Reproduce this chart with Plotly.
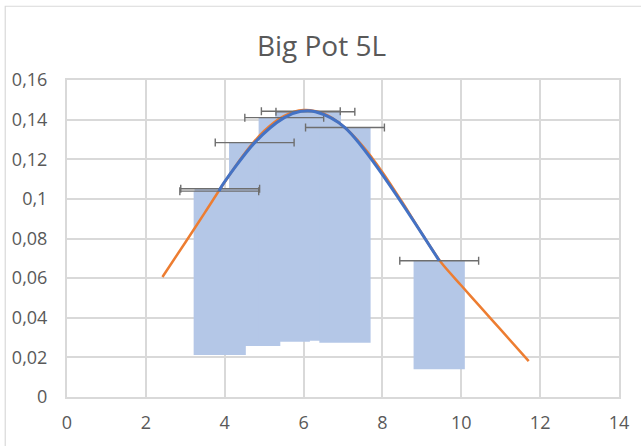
import plotly.graph_objects as go

# Measured points: plant size (x) vs. frequency (top of column), with column floor
size_x = [3.862, 3.885, 4.76, 5.51, 5.93, 6.30, 7.05, 9.44]
freq_top = [0.1039, 0.1051, 0.1284, 0.1410, 0.1442, 0.1440, 0.1360, 0.0688]
freq_base = [0.0212, 0.0212, 0.0257, 0.0279, 0.0284, 0.0288, 0.0274, 0.0140]
size_err = [1.0, 1.0, 1.0, 1.0, 1.0, 1.0, 1.0, 1.0]

# Fitted distribution curve
fit_x = [2.42, 3.0, 3.5, 4.0, 4.5, 5.0, 5.5, 6.0, 6.5, 7.0, 7.5, 8.0, 8.5,
         9.0, 9.5, 10.0, 10.5, 11.0, 11.71]
fit_y = [0.0606, 0.0780, 0.0932, 0.1085, 0.1228, 0.1343, 0.1418, 0.1448,
         0.1431, 0.1368, 0.1267, 0.1135, 0.0984, 0.0825, 0.0676, 0.0563,
         0.0451, 0.0340, 0.0181]

x_ticks = [0, 2, 4, 6, 8, 10, 12, 14]
y_ticks = [0, 0.02, 0.04, 0.06, 0.08, 0.10, 0.12, 0.14, 0.16]
y_tick_text = ["0", "0,02", "0,04", "0,06", "0,08", "0,1", "0,12", "0,14", "0,16"]

GRID = "#d9d9d9"
TEXT = "#595959"
FONT = "Open Sans"

fig = go.Figure()

fig.add_trace(go.Bar(
    x=size_x,
    y=[t - b for t, b in zip(freq_top, freq_base)],
    base=freq_base,
    width=1.3,
    marker=dict(color="#b4c7e7", line=dict(width=0)),
    hoverinfo="skip",
))

fig.add_trace(go.Scatter(
    x=fit_x, y=fit_y, mode="lines",
    line=dict(color="#ed7d31", width=2.5, shape="spline", smoothing=0.8),
    hoverinfo="skip",
))

fig.add_trace(go.Scatter(
    x=size_x, y=freq_top, mode="lines",
    line=dict(color="#4472c4", width=3, shape="spline", smoothing=0.9),
    error_x=dict(type="data", array=size_err, visible=True,
                 color="#6e6e6e", thickness=1.4, width=4),
    hoverinfo="skip",
))

# light frame around the whole chart area
fig.add_shape(type="rect", xref="paper", yref="paper",
              x0=-0.1119, x1=1.3, y0=-0.4, y1=1.2327,
              line=dict(color=GRID, width=1.2), layer="below")

fig.update_layout(
    width=641, height=446,
    margin=dict(l=67, r=20, t=80, b=48),
    paper_bgcolor="white", plot_bgcolor="white",
    showlegend=False,
    barmode="overlay",
    font=dict(family=FONT, color=TEXT, size=18),
    title=dict(text="Big Pot 5L", x=321.5 / 641, xanchor="center",
               y=1 - 46 / 446, yanchor="middle", yref="container",
               font=dict(family=FONT, size=28, color=TEXT)),
)

fig.update_xaxes(
    range=[0, 14], tickvals=x_ticks,
    showgrid=True, gridcolor=GRID, gridwidth=2,
    showline=True, linecolor=GRID, linewidth=2, mirror=True,
    zeroline=False, ticks="", ticklabelstandoff=8,
    tickfont=dict(size=18, color=TEXT),
)
fig.update_yaxes(
    range=[0, 0.16], tickvals=y_ticks, ticktext=y_tick_text,
    showgrid=True, gridcolor=GRID, gridwidth=2,
    showline=True, linecolor=GRID, linewidth=2, mirror=True,
    zeroline=False, ticks="", ticklabelstandoff=14,
    tickfont=dict(size=18, color=TEXT),
)

fig.write_html("out.html")
